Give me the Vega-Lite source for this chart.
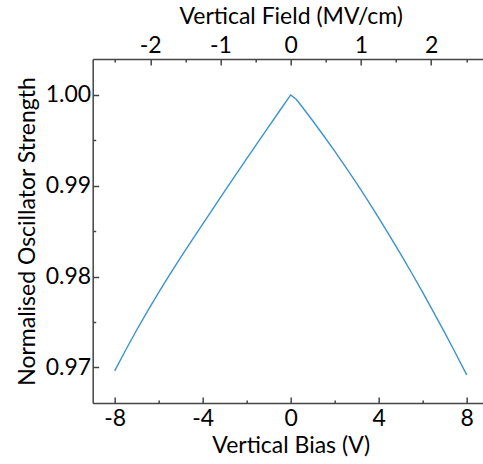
{
  "$schema": "https://vega.github.io/schema/vega-lite/v6.json",
  "width": 396,
  "height": 344,
  "autosize": "none",
  "padding": {"left": 92.7, "top": 59, "right": 0, "bottom": 61},
  "config": {
    "view": {"stroke": null},
    "font": "Lato",
    "axis": {
      "grid": false,
      "domainColor": "#444444",
      "domainWidth": 1.5,
      "tickColor": "#444444",
      "tickWidth": 1.5,
      "labelFont": "Lato",
      "labelFontSize": 23,
      "labelColor": "#000000",
      "titleFont": "Lato",
      "titleFontSize": 23,
      "titleFontWeight": "normal",
      "titleColor": "#000000",
      "labelOverlap": false,
      "labelFlush": false
    }
  },
  "layer": [
    {
      "data": {"values": [
        {"bias": -8, "strength": 0.96961},
        {"bias": -7.5, "strength": 0.97191},
        {"bias": -7, "strength": 0.97411},
        {"bias": -6.5, "strength": 0.97622},
        {"bias": -6, "strength": 0.97825},
        {"bias": -5.5, "strength": 0.98021},
        {"bias": -5, "strength": 0.98211},
        {"bias": -4.5, "strength": 0.98396},
        {"bias": -4, "strength": 0.98577},
        {"bias": -3.5, "strength": 0.9876},
        {"bias": -3, "strength": 0.98941},
        {"bias": -2.5, "strength": 0.9912},
        {"bias": -2, "strength": 0.99298},
        {"bias": -1.5, "strength": 0.99475},
        {"bias": -1, "strength": 0.99651},
        {"bias": -0.5, "strength": 0.99826},
        {"bias": 0, "strength": 1.0},
        {"bias": 0.25, "strength": 0.99952},
        {"bias": 0.5, "strength": 0.99875},
        {"bias": 1, "strength": 0.99716},
        {"bias": 1.5, "strength": 0.99551},
        {"bias": 2, "strength": 0.99381},
        {"bias": 2.5, "strength": 0.99206},
        {"bias": 3, "strength": 0.99025},
        {"bias": 3.5, "strength": 0.98838},
        {"bias": 4, "strength": 0.98647},
        {"bias": 4.5, "strength": 0.98449},
        {"bias": 5, "strength": 0.98247},
        {"bias": 5.5, "strength": 0.98039},
        {"bias": 6, "strength": 0.97825},
        {"bias": 6.5, "strength": 0.97606},
        {"bias": 7, "strength": 0.97382},
        {"bias": 7.5, "strength": 0.97152},
        {"bias": 8, "strength": 0.96916}
      ]},
      "mark": {"type": "line", "color": "#3C93CD", "strokeWidth": 1.4},
      "encoding": {
        "x": {
          "field": "bias", "type": "quantitative",
          "scale": {"domain": [-9, 9], "nice": false, "zero": false},
          "axis": {
            "orient": "bottom",
            "title": "Vertical Bias (V)",
            "values": [-8, -6, -4, -2, 0, 2, 4, 6, 8],
            "labelExpr": "datum.value % 4 == 0 ? '' + datum.value : ''",
            "tickSize": {"condition": {"test": "datum.value % 4 != 0", "value": -3}, "value": -6},
            "labelPadding": 11,
            "titlePadding": 1
          }
        },
        "y": {
          "field": "strength", "type": "quantitative",
          "scale": {"domain": [0.96607, 1.00396], "nice": false, "zero": false},
          "axis": {
            "title": "Normalised Oscillator Strength",
            "values": [0.97, 0.975, 0.98, 0.985, 0.99, 0.995, 1.0],
            "labelExpr": "round(datum.value * 1000) % 10 == 0 ? format(datum.value, '.2f') : ''",
            "tickSize": {"condition": {"test": "round(datum.value * 1000) % 10 != 0", "value": -3}, "value": -6},
            "labelPadding": 8,
            "titlePadding": 6
          }
        }
      }
    },
    {
      "data": {"values": [{"field": -2.82}, {"field": 2.82}]},
      "mark": {"type": "point", "opacity": 0},
      "encoding": {
        "x": {
          "field": "field", "type": "quantitative",
          "scale": {"domain": [-2.82, 2.82], "nice": false, "zero": false},
          "axis": {
            "orient": "top",
            "title": "Vertical Field (MV/cm)",
            "values": [-2.5, -2, -1.5, -1, -0.5, 0, 0.5, 1, 1.5, 2, 2.5],
            "labelExpr": "datum.value % 1 == 0 ? '' + datum.value : ''",
            "tickSize": {"condition": {"test": "datum.value % 1 != 0", "value": -3}, "value": -6},
            "labelPadding": 8,
            "titlePadding": 3
          }
        }
      }
    }
  ],
  "resolve": {"scale": {"x": "independent"}}
}
